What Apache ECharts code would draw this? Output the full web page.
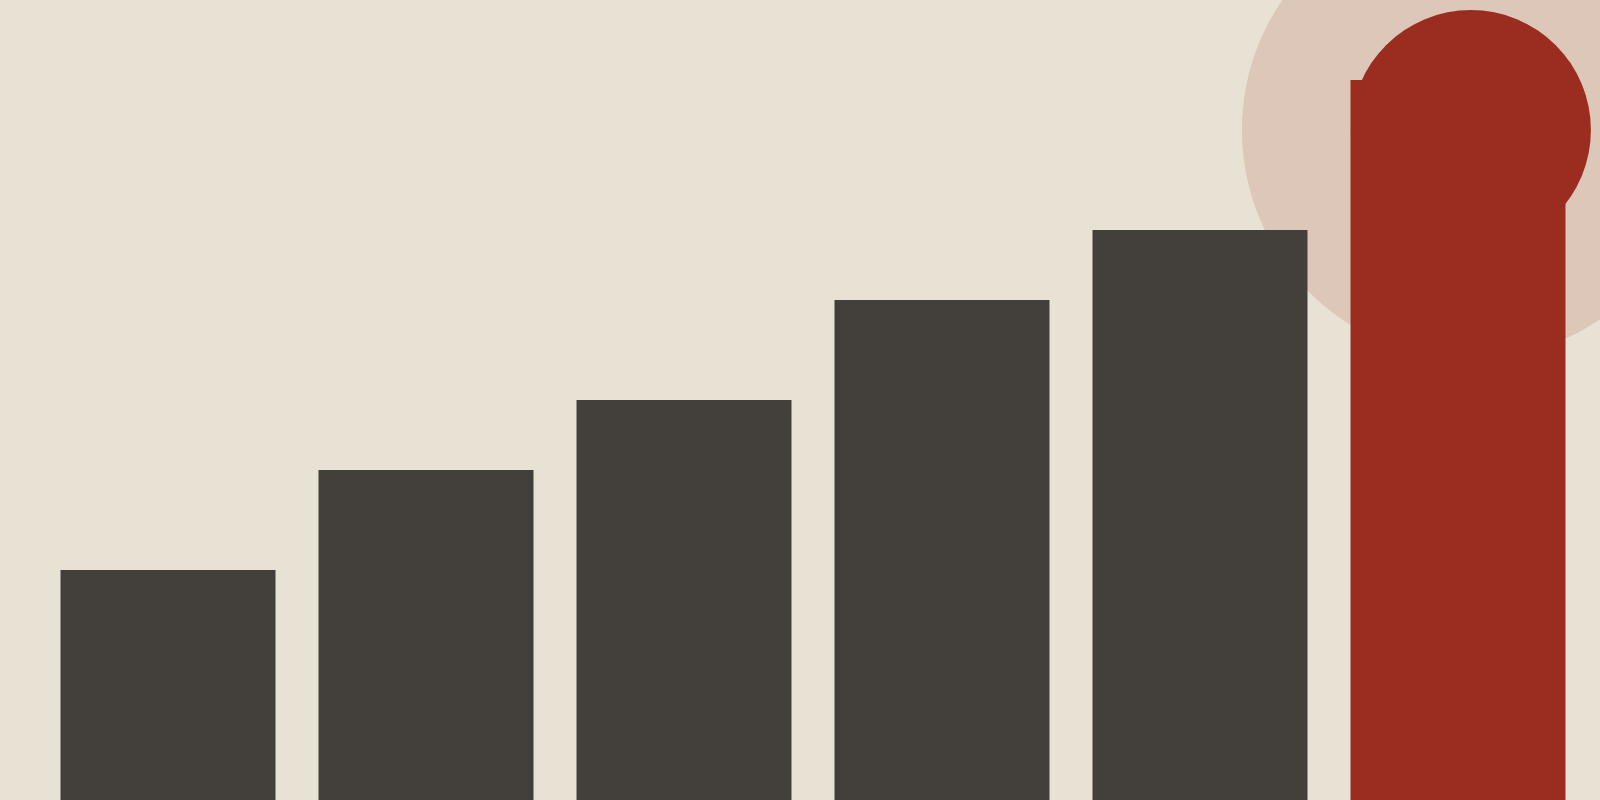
<!DOCTYPE html>
<html lang="en">
<head>
    <meta charset="UTF-8">
    <title>Bars</title>
    <style>
        html, body { margin: 0; padding: 0; background: #e8e2d4; }
        #barChart { width: 1600px; height: 800px; }
    </style>
</head>
<body>
<div id="barChart"></div>
<script src="https://cdn.jsdelivr.net/npm/echarts@6/dist/echarts.min.js"></script>
<script type="text/javascript">
    var categories = ['1', '2', '3', '4', '5', '6'];
    var values = [230, 330, 400, 500, 570, 720];
    var highlightIndex = 5;
    // halo + dot sitting on top of the last bar: [x (category index), y]
    var haloPoint = [5.05, 670];
    var dotPoint = [5.05, 670];

    var barData = values.map(function (v, i) {
        return {
            value: v,
            itemStyle: { color: i === highlightIndex ? '#9b2d20' : '#433f3a' }
        };
    });

    var myChart = echarts.init(document.getElementById('barChart'));
    var option = {
        backgroundColor: '#e8e2d4',
        animation: false,
        grid: { left: 39, right: 13, top: 0, bottom: 0 },
        xAxis: [
            {
                type: 'category',
                data: categories,
                show: false
            },
            {
                type: 'value',
                min: -0.5,
                max: 5.5,
                show: false
            }
        ],
        yAxis: {
            type: 'value',
            min: 0,
            max: 800,
            show: false
        },
        series: [
            {
                type: 'scatter',
                xAxisIndex: 1,
                symbolSize: 458,
                data: [haloPoint],
                itemStyle: { color: '#9b2d20', opacity: 0.15 },
                silent: true,
                z: 1
            },
            {
                type: 'bar',
                barWidth: 215,
                data: barData,
                z: 2
            },
            {
                type: 'scatter',
                xAxisIndex: 1,
                symbolSize: 240,
                data: [dotPoint],
                itemStyle: { color: '#9b2d20', opacity: 1 },
                silent: true,
                z: 4
            }
        ]
    };
    myChart.setOption(option);
</script>
</body>
</html>
